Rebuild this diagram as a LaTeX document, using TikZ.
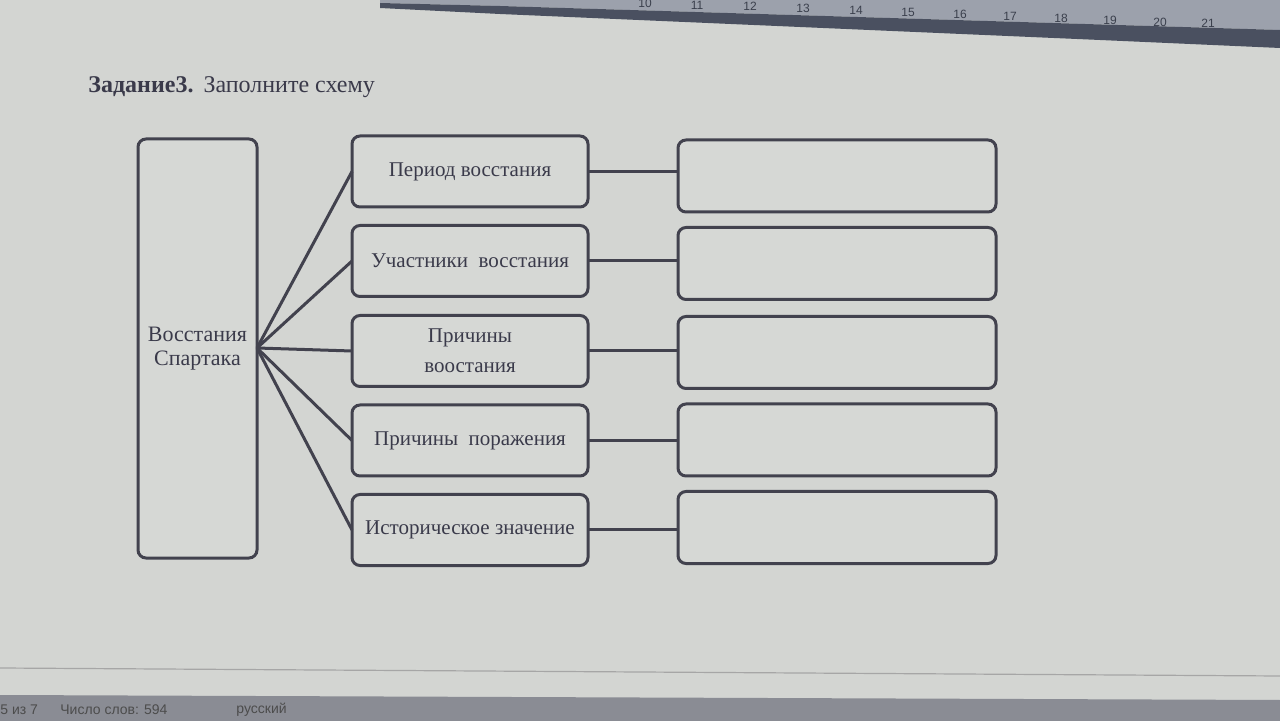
\documentclass[tikz,border=0pt]{standalone}
\usepackage{fontspec}
\setmainfont{Liberation Serif}
\newfontfamily\uisans{Liberation Sans}
\definecolor{bgpage}{HTML}{D3D5D2}
\definecolor{boxfill}{HTML}{D6D8D5}
\definecolor{inkline}{HTML}{42424E}
\definecolor{inktext}{HTML}{3A3A4A}
\definecolor{rulerbg}{HTML}{9CA1AC}
\definecolor{rulerdark}{HTML}{4A5060}
\definecolor{statusbg}{HTML}{8A8C94}
\tikzset{
  px/.style={x=0.5pt,y=-0.5pt},
  bx/.style={draw=inkline, line width=1.5pt, rounded corners=4pt, fill=boxfill,
    inner sep=0pt, outer sep=0pt, align=center, text=inktext, font=\fontsize{10.5}{13}\selectfont},
  leftbox/.style={bx, minimum width=59.5pt, minimum height=209.5pt, font=\fontsize{11}{12}\selectfont},
  midbox/.style={bx, minimum width=118pt, minimum height=35.5pt},
  rightbox/.style={bx, minimum width=159pt, minimum height=36pt},
  conn/.style={draw=inkline, line width=1.5pt},
  rulernum/.style={font=\uisans\fontsize{6}{6}\selectfont, text=rulerdark!80!black, inner sep=0pt},
  statustext/.style={font=\uisans\fontsize{7}{7}\selectfont, text=black!70, anchor=west, inner sep=0pt}
}
\begin{document}
\begin{tikzpicture}[px]
\useasboundingbox (0,0) rectangle (1280,721);
\fill[bgpage] (0,0) rectangle (1280,721);
% ruler strip and dark edge at top
\fill[rulerbg] (380,0) -- (1280,0) -- (1280,30) -- (500,6) -- (380,3) -- cycle;
\fill[rulerdark] (380,3) -- (500,6) -- (1280,30) -- (1280,48) -- (1100,40) -- (500,14) -- (380,8) -- cycle;
\foreach \n/\xx/\yy in {10/645/3,11/697/5,12/750/6,13/803/8,14/856/10,15/908/12,16/960/14,17/1010/16,18/1061/18,19/1110/20,20/1160/22,21/1208/23}
  \node[rulernum] (r\n) at (\xx,\yy) {\n};
% status bar
\draw[draw=gray!70, line width=0.6pt] (0,668) -- (1280,676);
\fill[statusbg] (0,695) -- (1280,700) -- (1280,721) -- (0,721) -- cycle;
\node[statustext] (st1) at (0,710) {5 из 7};
\node[statustext] (st2) at (60,710) {Число слов: 594};
\node[statustext] (st3) at (236,710) {русский};
% title
\node[anchor=west, inner sep=0pt, text=inktext, font=\fontsize{12}{14}\selectfont] (title) at (88,87)
  {\textbf{Задание3.}\hspace{5pt}Заполните схему};
% main diagram
\node[leftbox] (L) at (197.5,348.5) {Восстания\\Спартака};
\node[midbox] (m1) at (470,171.5) {Период восстания};
\node[midbox] (m2) at (470,261) {Участники\ \ восстания};
\node[midbox, font=\fontsize{10.5}{15}\selectfont] (m3) at (470,351) {Причины\\воостания};
\node[midbox] (m4) at (470,440.5) {Причины\ \ поражения};
\node[midbox] (m5) at (470,530) {Историческое значение};
\node[rightbox] (r1) at (837,176) {};
\node[rightbox] (r2) at (837,263.5) {};
\node[rightbox] (r3) at (837,352.5) {};
\node[rightbox] (r4) at (837,440) {};
\node[rightbox] (r5) at (837,527.5) {};
\coordinate (hub) at (L.east |- 0,348);
\foreach \i in {1,...,5} {
  \draw[conn] (hub) -- (m\i.west);
  \draw[conn] (m\i.east) -- (m\i.east -| r\i.west);
}
\end{tikzpicture}
\end{document}
